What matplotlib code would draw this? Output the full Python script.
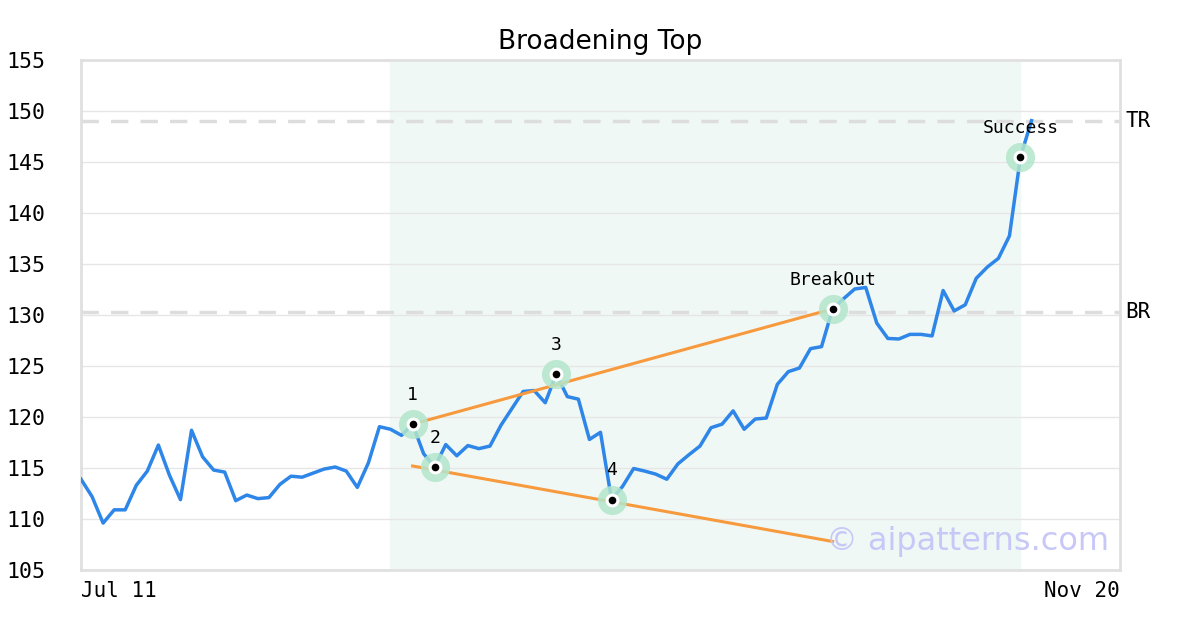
import matplotlib
matplotlib.use("Agg")
import matplotlib.pyplot as plt

# closing prices, one per trading day from Jul 11
prices = [113.9, 112.2, 109.6, 110.9, 110.9, 113.3, 114.7, 117.25, 114.3, 111.9,
          118.7, 116.1, 114.8, 114.6, 111.8, 112.35, 112.0, 112.1, 113.4, 114.2,
          114.1, 114.5, 114.9, 115.1, 114.7, 113.1, 115.5, 119.05, 118.8, 118.2,
          119.3, 116.4, 115.1, 117.3, 116.2, 117.2, 116.9, 117.15, 119.2, 120.85,
          122.5, 122.6, 121.4, 124.2, 122.0, 121.75, 117.8, 118.5, 111.9, 113.2,
          114.95, 114.7, 114.4, 113.9, 115.4, 116.3, 117.15, 118.95, 119.3, 120.6,
          118.8, 119.8, 119.9, 123.2, 124.45, 124.8, 126.7, 126.9, 130.6, 131.6,
          132.55, 132.7, 129.2, 127.7, 127.65, 128.1, 128.1, 127.95, 132.4, 130.4,
          131.0, 133.6, 134.7, 135.55, 137.75, 145.5, 149.05]
n_days = 94  # Jul 11 .. Nov 20 in trading days

pattern_start, pattern_end = 28, 85
point_idx = [30, 32, 43, 48, 68, 85]
point_labels = ["1", "2", "3", "4", "BreakOut", "Success"]

upper_line = ([30, 68], [119.3, 130.6])
lower_line = ([30, 68], [115.2, 107.8])

tr_level = 149.0
br_level = 130.3

yticks = list(range(105, 156, 5))

fig = plt.figure(figsize=(12, 6.3), dpi=100)
ax = fig.add_axes([0.0675, 0.0952, 0.8658, 0.8096])

ax.axvspan(pattern_start, pattern_end, color="#f0f8f5", zorder=0)
for y in yticks:
    ax.axhline(y, color="#e6e6e6", lw=1, zorder=1)

ax.axhline(tr_level, color="#dddddd", lw=2.5, dashes=(5, 3.5), zorder=2)
ax.axhline(br_level, color="#dddddd", lw=2.5, dashes=(5, 3.5), zorder=2)

ax.plot(range(len(prices)), prices, color="#2e86e8", lw=2.5, zorder=3)
ax.plot(upper_line[0], upper_line[1], color="#f79a3e", lw=2.2, zorder=4)
ax.plot(lower_line[0], lower_line[1], color="#f79a3e", lw=2.2, zorder=4)

for i, lab in zip(point_idx, point_labels):
    v = prices[i]
    ax.plot(i, v, "o", ms=21, color="#b3e6cc", alpha=0.85, mec="none", zorder=5)
    ax.plot(i, v, "o", ms=10, color="white", mec="none", zorder=6)
    ax.plot(i, v, "o", ms=5.5, color="black", mec="none", zorder=7)
    ax.annotate(lab, (i, v), xytext=(0, 14.5), textcoords="offset points",
                ha="center", va="bottom", fontsize=13, family="DejaVu Sans Mono")

ax.set_xlim(0, n_days)
ax.set_ylim(105, 155)
ax.set_yticks(yticks)
ax.set_yticklabels([str(y) for y in yticks], family="DejaVu Sans Mono", fontsize=15.5)
ax.tick_params(axis="y", length=0, pad=54)
ax.set_xticks([])
for lab in ax.get_yticklabels():
    lab.set_horizontalalignment("left")

ax.text(0, -0.022, "Jul 11", transform=ax.transAxes, ha="left", va="top",
        family="DejaVu Sans Mono", fontsize=15)
ax.text(1, -0.022, "Nov 20", transform=ax.transAxes, ha="right", va="top",
        family="DejaVu Sans Mono", fontsize=15)

ax.text(1.005, tr_level, "TR", transform=ax.get_yaxis_transform(), ha="left",
        va="center", family="DejaVu Sans Mono", fontsize=15)
ax.text(1.005, br_level, "BR", transform=ax.get_yaxis_transform(), ha="left",
        va="center", family="DejaVu Sans Mono", fontsize=15)

ax.text(0.99, 0.055, "© aipatterns.com", transform=ax.transAxes, ha="right",
        va="center", fontsize=23, color="#c8c8f8", zorder=8)

for s in ax.spines.values():
    s.set_color("#e0e0e0")
    s.set_linewidth(2)

ax.set_title("Broadening Top", fontsize=19, pad=8)

fig.savefig("out.png", dpi=100)
